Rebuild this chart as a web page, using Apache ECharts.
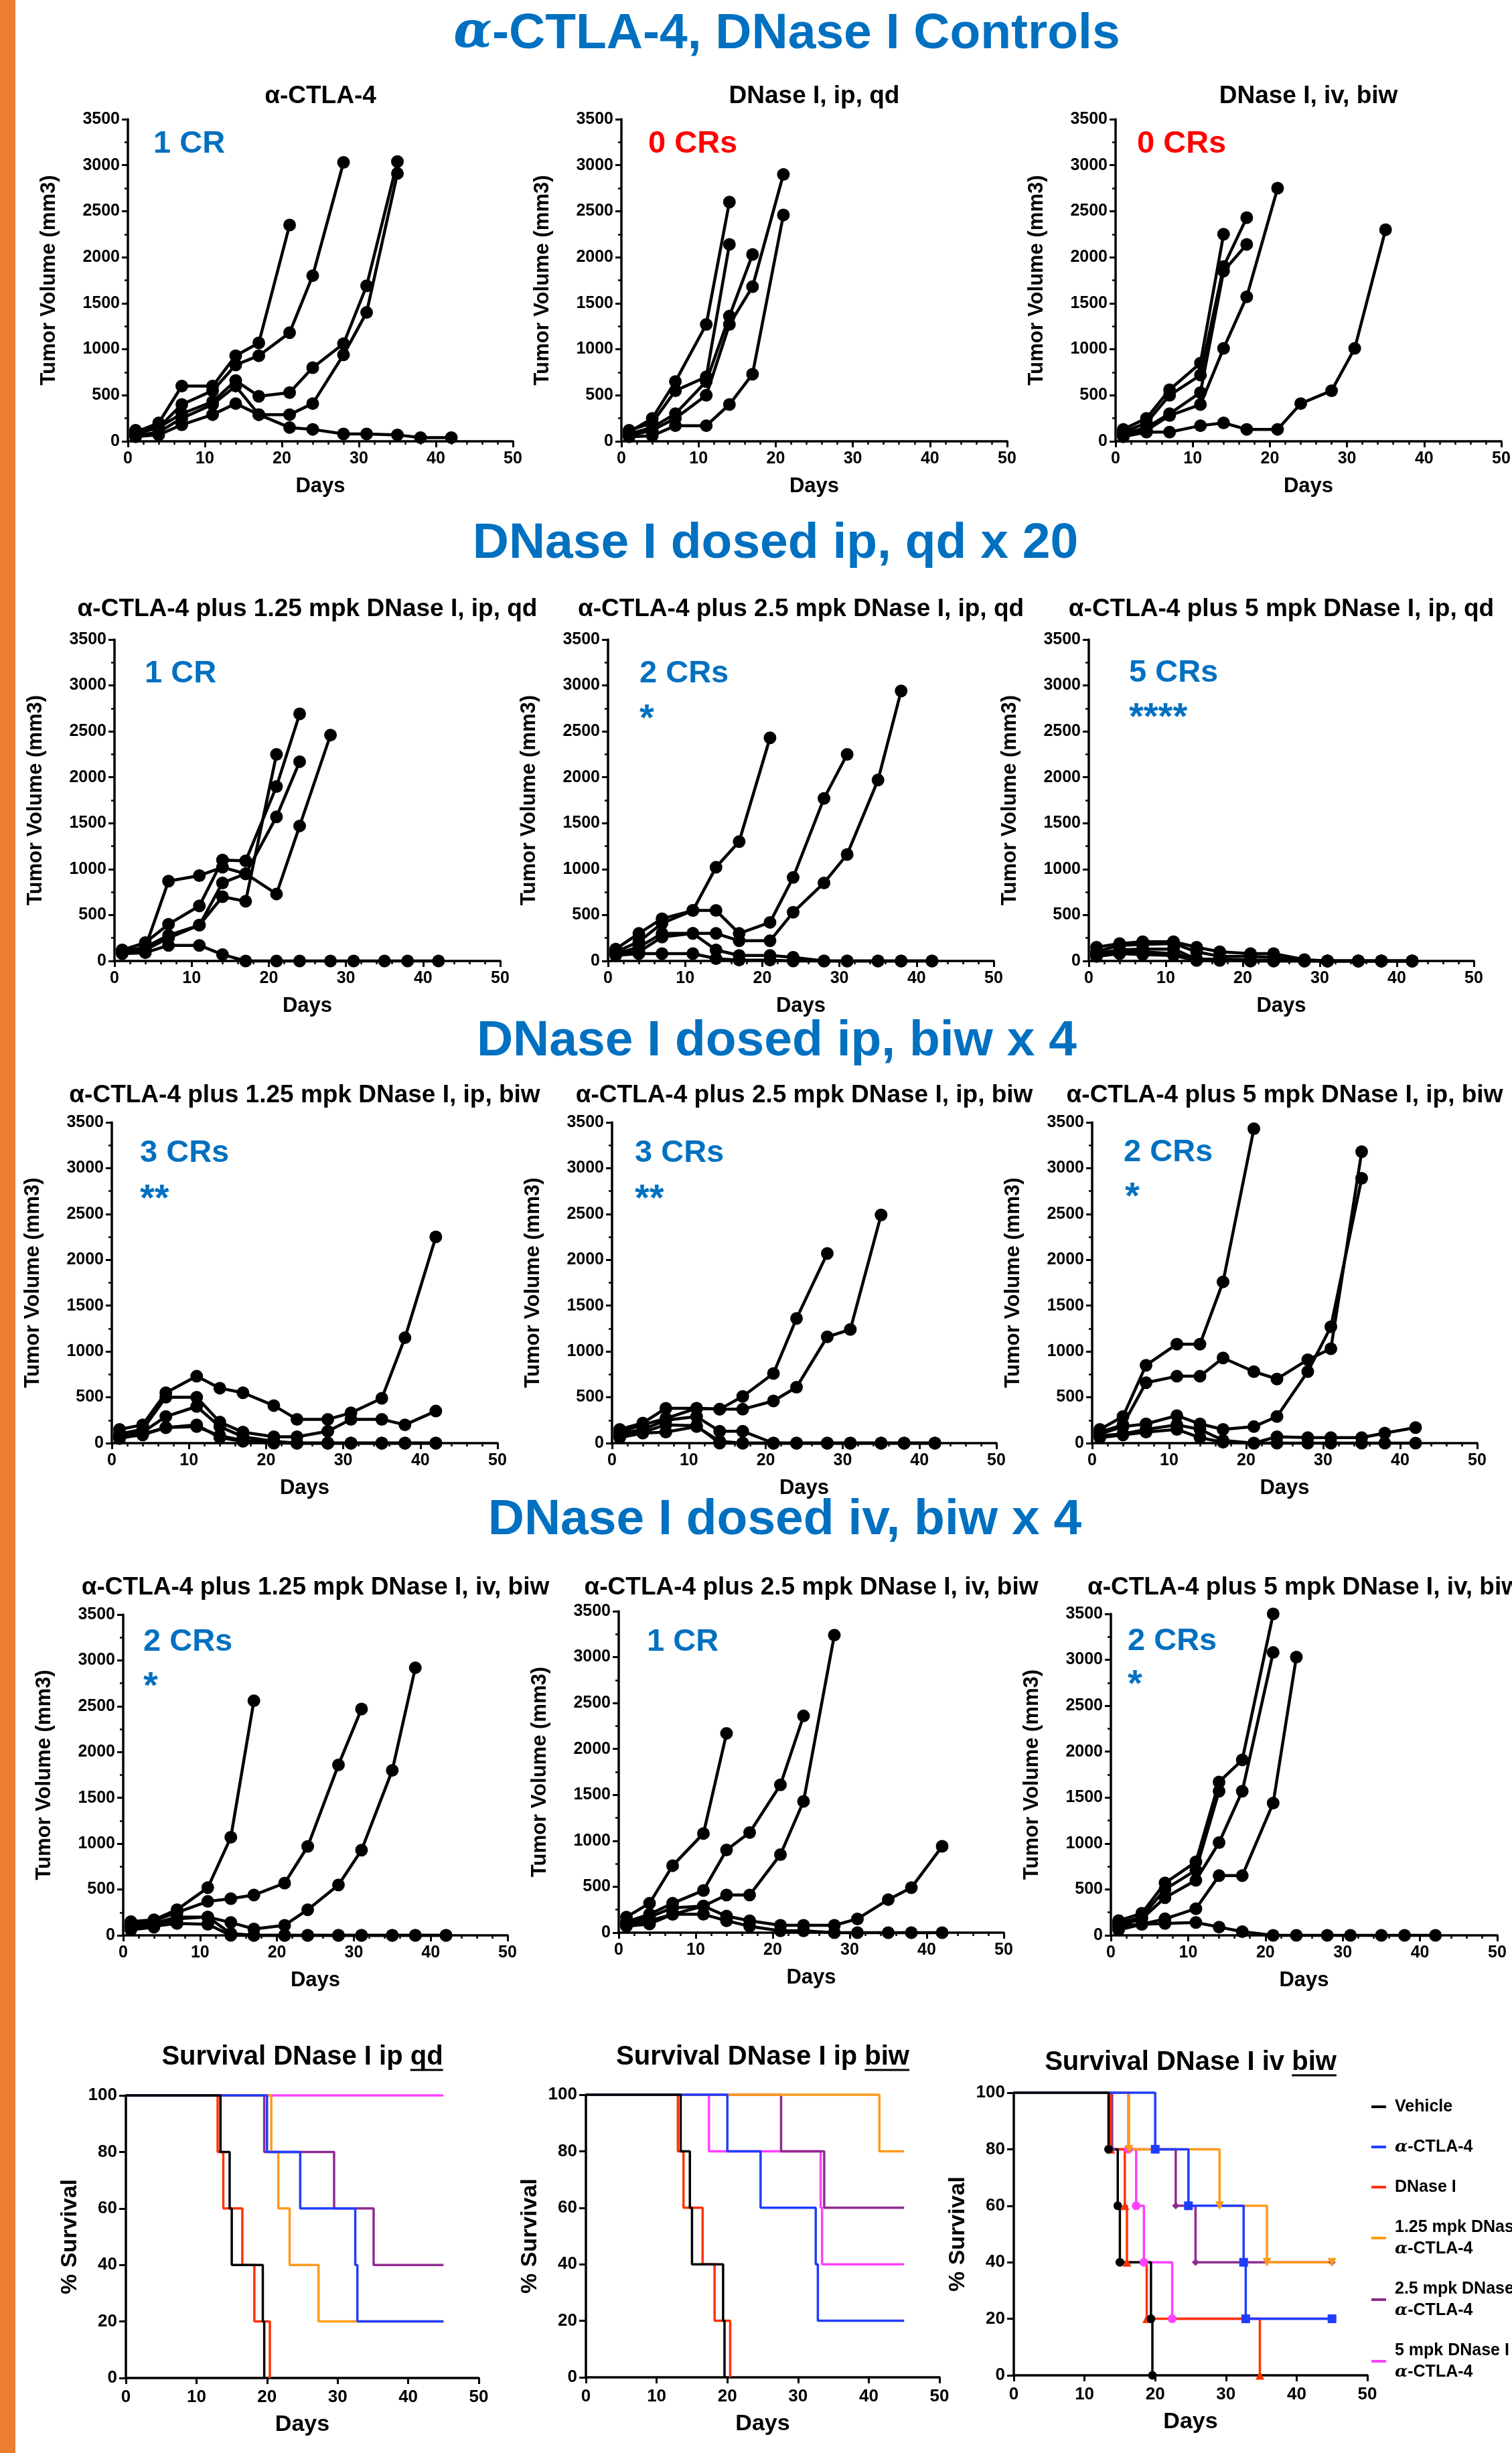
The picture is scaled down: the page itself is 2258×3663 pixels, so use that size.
<!DOCTYPE html>
<html><head><meta charset="utf-8">
<script src="https://cdn.jsdelivr.net/npm/echarts@6/dist/echarts.min.js"></script>
<style>html,body{margin:0;padding:0;background:#fff}#c{width:2258px;height:3663px}</style>
</head><body><div id="c"></div>
<script>
// ---------------- DATA ----------------
const days = [1, 4, 7, 11, 14, 17, 21, 24, 28, 31, 35, 38, 42];

// α-CTLA-4
const ctla4Mice = [
  [100, 200, 600, 600, 930, 1070, 2350],
  [80, 150, 400, 550, 830, 930, 1180, 1800, 3030],
  [120, 150, 300, 430, 660, 490, 530, 800, 1060, 1690, 3040],
  [60, 100, 250, 400, 600, 290, 290, 410, 940, 1400, 2910],
  [50, 70, 180, 290, 410, 290, 150, 130, 80, 80, 70, 40, 40]
];
// DNase I, ip, qd
const dnIpQdMice = [
  [100, 250, 650, 1270, 2600],
  [120, 200, 550, 700, 2140],
  [80, 150, 300, 650, 1360, 2030],
  [60, 120, 250, 500, 1270, 1680, 2900],
  [50, 60, 170, 170, 400, 730, 2460]
];
// DNase I, iv, biw
const dnIvBiwMice = [
  [130, 250, 560, 850, 2250],
  [100, 200, 500, 720, 1900, 2430],
  [80, 150, 300, 530, 1850, 2140],
  [60, 120, 280, 400, 1010, 1570, 2750],
  [50, 100, 100, 170, 200, 130, 130, 410, 550, 1010, 2300]
];
// α-CTLA-4 + 1.25 mpk DNase I, ip, qd
const ipQd125Mice = [
  [100, 150, 280, 390, 700, 650, 2250],
  [120, 200, 400, 600, 1100, 1090, 1900, 2690],
  [90, 120, 250, 390, 850, 950, 1570, 2170],
  [100, 150, 870, 930, 1020, 950, 730, 1470, 2460],
  [80, 90, 170, 170, 70, 0, 0, 0, 0, 0, 0, 0, 0]
];
// α-CTLA-4 + 2.5 mpk DNase I, ip, qd
const ipQd25Mice = [
  [130, 300, 460, 550, 1020, 1300, 2430],
  [100, 210, 410, 550, 550, 300, 420, 910, 1770, 2250],
  [80, 150, 300, 300, 300, 220, 220, 530, 850, 1160, 1970, 2940],
  [90, 100, 260, 300, 120, 60, 60, 40, 0, 0, 0, 0, 0],
  [60, 80, 80, 80, 25, 10, 10, 0, 0, 0, 0, 0, 0]
];
// α-CTLA-4 + 5 mpk DNase I, ip, qd
const ipQd5Mice = [
  [150, 190, 210, 210, 150, 100, 80, 80, 15, 0, 0, 0, 0],
  [100, 170, 180, 190, 100, 50, 50, 40, 10, 0, 0, 0, 0],
  [80, 120, 130, 130, 20, 20, 10, 10, 0, 0, 0, 0, 0],
  [60, 100, 100, 80, 10, 10, 0, 0, 0, 0, 0, 0, 0],
  [50, 80, 70, 60, 5, 5, 0, 0, 0, 0, 0, 0, 0]
];
// α-CTLA-4 + 1.25 mpk DNase I, ip, biw
const ipBiw125Mice = [
  [150, 200, 550, 730, 600, 550, 410, 260, 260, 330, 490, 1150, 2250],
  [100, 150, 500, 500, 230, 120, 70, 70, 130, 260, 260, 200, 350],
  [70, 120, 290, 400, 180, 70, 20, 0, 0, 0, 0, 0, 0],
  [50, 100, 170, 200, 60, 20, 0, 0, 0, 0, 0, 0, 0],
  [60, 90, 170, 180, 80, 30, 10, 0, 0, 0, 0, 0, 0]
];
// α-CTLA-4 + 2.5 mpk DNase I, ip, biw
const ipBiw25Mice = [
  [150, 220, 380, 380, 370, 510, 760, 1360, 2070],
  [120, 200, 270, 380, 370, 370, 460, 610, 1160, 1240, 2490],
  [100, 150, 250, 290, 130, 130, 0, 0, 0, 0, 0, 0, 0],
  [80, 120, 200, 190, 0, 0, 0, 0, 0, 0, 0, 0, 0],
  [60, 110, 120, 180, 20, 0, 0, 0, 0, 0, 0, 0, 0]
];
// α-CTLA-4 + 5 mpk DNase I, ip, biw
const ipBiw5Mice = [
  [150, 290, 850, 1080, 1080, 1760, 3430],
  [120, 200, 660, 730, 730, 930, 780, 700, 910, 1030, 3180],
  [100, 180, 210, 300, 210, 150, 180, 290, 780, 1270, 2890],
  [80, 100, 150, 200, 150, 30, 0, 70, 60, 60, 60, 110, 170],
  [60, 90, 120, 150, 60, 10, 0, 0, 0, 0, 0, 0, 0]
];
// α-CTLA-4 + 1.25 mpk DNase I, iv, biw
const ivBiw125Mice = [
  [150, 170, 280, 520, 1070, 2560],
  [120, 160, 250, 370, 400, 440, 570, 970, 1860, 2470],
  [100, 130, 200, 200, 140, 70, 110, 280, 550, 930, 1800, 2920],
  [80, 100, 130, 120, 0, 0, 0, 0, 0, 0, 0, 0, 0],
  [60, 90, 180, 200, 20, 0, 0, 0, 0, 0, 0, 0, 0]
];
// α-CTLA-4 + 2.5 mpk DNase I, iv, biw
const ivBiw25Mice = [
  [170, 320, 730, 1080, 2170],
  [120, 200, 320, 460, 900, 1090, 1610, 2360],
  [100, 170, 270, 290, 410, 410, 850, 1430, 3240],
  [85, 130, 200, 290, 180, 130, 80, 80, 80, 150, 360, 490, 940],
  [70, 95, 200, 200, 130, 70, 20, 20, 0, 0, 0, 0, 0]
];
// α-CTLA-4 + 5 mpk DNase I, iv, biw
const ivBiw5Mice = [
  [160, 240, 570, 800, 1670, 1910, 3500],
  [100, 180, 410, 600, 1010, 1570, 3080],
  [60, 120, 180, 290, 650, 650, 1440, 3030],
  [130, 200, 500, 710, 1570],
  [100, 120, 130, 140, 90, 40, 0, 0, 0, 0, 0, 0, 0]
];

// Survival (Kaplan-Meier): event times (days) and % survival after each event
const vehT = [0, 13.4, 14.7, 15.0, 19.4, 19.6],  vehS = [100, 80, 60, 40, 20, 0];
const ctlT = [0, 20.0, 24.7, 32.5, 32.8, 45],    ctlS = [100, 80, 60, 40, 20, 20];
const dnIpT = [0, 13.0, 13.8, 16.5, 18.2, 20.4], dnIpS = [100, 80, 60, 40, 20, 0];
const dnIvT = [0, 13.7, 15.7, 16.0, 18.8, 34.8], dnIvS = [100, 80, 60, 40, 20, 0];
const qd125T = [0, 20.6, 21.6, 23.2, 27.3, 45],  qd125S = [100, 80, 60, 40, 20, 20];
const qd25T = [0, 19.6, 29.5, 35.1, 45],         qd25S = [100, 80, 60, 40, 40];
const qd5T = [0, 45],                            qd5S = [100, 100];
const ipb125T = [0, 41.5, 45],                   ipb125S = [100, 80, 80];
const ipb25T = [0, 27.6, 33.7, 45],              ipb25S = [100, 80, 60, 60];
const ipb5T = [0, 17.4, 33.2, 33.4, 45],         ipb5S = [100, 80, 60, 40, 40];
const ivb125T = [0, 16.3, 29.1, 35.8, 45],       ivb125S = [100, 80, 60, 40, 40];
const ivb25T = [0, 13.9, 22.9, 25.7, 45],        ivb25S = [100, 80, 60, 40, 40];
const ivb5T = [0, 16.2, 17.3, 18.4, 22.4, 45],   ivb5S = [100, 80, 60, 40, 20, 20];

const groupNames = ['Vehicle', 'α-CTLA-4', 'DNase I', '1.25 mpk DNase I +\nα-CTLA-4', '2.5 mpk DNase I +\nα-CTLA-4', '5 mpk DNase I +\nα-CTLA-4'];

// ---------------- LAYOUT / STYLE ----------------
const FONT = '"Liberation Sans", Arial, sans-serif';
const BLUE = '#0070C0', RED = '#FF0000';
const groupColors = ['#000000', '#1F3DFF', '#FF3300', '#FF9A1A', '#8E2C90', '#FF40FF'];
const groupSymbols = ['circle', 'rect', 'triangle', 'triangle', 'diamond', 'circle'];
const groupRot = [0, 0, 0, 180, 0, 0];

const tumorPanels = [
  {title: 'α-CTLA-4', box: [191, 178, 766, 659], ty: 144, mice: ctla4Mice, note: '1 CR', nc: BLUE, np: [229, 215], star: '', sp: null},
  {title: 'DNase I, ip, qd', box: [928, 178, 1504, 659], ty: 144, mice: dnIpQdMice, note: '0 CRs', nc: RED, np: [968, 215], star: '', sp: null},
  {title: 'DNase I, iv, biw', box: [1666, 178, 2242, 659], ty: 144, mice: dnIvBiwMice, note: '0 CRs', nc: RED, np: [1698, 215], star: '', sp: null},
  {title: 'α-CTLA-4 plus 1.25 mpk DNase I, ip, qd', box: [171, 955, 747, 1435], ty: 910, mice: ipQd125Mice, note: '1 CR', nc: BLUE, np: [216, 1006], star: '', sp: null},
  {title: 'α-CTLA-4 plus 2.5 mpk DNase I, ip, qd', box: [908, 955, 1484, 1435], ty: 910, mice: ipQd25Mice, note: '2 CRs', nc: BLUE, np: [955, 1006], star: '*', sp: [955, 1063]},
  {title: 'α-CTLA-4 plus 5 mpk DNase I, ip, qd', box: [1626, 955, 2201, 1435], ty: 910, mice: ipQd5Mice, note: '5 CRs', nc: BLUE, np: [1686, 1005], star: '****', sp: [1686, 1061]},
  {title: 'α-CTLA-4 plus 1.25 mpk DNase I, ip, biw', box: [167, 1676, 743, 2155], ty: 1636, mice: ipBiw125Mice, note: '3 CRs', nc: BLUE, np: [209, 1722], star: '**', sp: [209, 1780]},
  {title: 'α-CTLA-4 plus 2.5 mpk DNase I, ip, biw', box: [914, 1676, 1488, 2155], ty: 1636, mice: ipBiw25Mice, note: '3 CRs', nc: BLUE, np: [948, 1722], star: '**', sp: [948, 1780]},
  {title: 'α-CTLA-4 plus 5 mpk DNase I, ip, biw', box: [1631, 1676, 2206, 2155], ty: 1636, mice: ipBiw5Mice, note: '2 CRs', nc: BLUE, np: [1678, 1721], star: '*', sp: [1680, 1777]},
  {title: 'α-CTLA-4 plus 1.25 mpk DNase I, iv, biw', box: [184, 2411, 758, 2890], ty: 2371, mice: ivBiw125Mice, note: '2 CRs', nc: BLUE, np: [214, 2452], star: '*', sp: [214, 2508]},
  {title: 'α-CTLA-4 plus 2.5 mpk DNase I, iv, biw', box: [924, 2406, 1499, 2886], ty: 2371, mice: ivBiw25Mice, note: '1 CR', nc: BLUE, np: [966, 2452], star: '', sp: null},
  {title: 'α-CTLA-4 plus 5 mpk DNase I, iv, biw', box: [1659, 2410, 2236, 2890], ty: 2371, mice: ivBiw5Mice, note: '2 CRs', nc: BLUE, np: [1684, 2451], star: '*', sp: [1684, 2505]}
];

const survPanels = [
  {title: 'Survival DNase I ip qd', uword: 'qd', box: [188, 3129, 715, 3551], ty: 3072, marks: false,
   groups: [[vehT, vehS], [ctlT, ctlS], [dnIpT, dnIpS], [qd125T, qd125S], [qd25T, qd25S], [qd5T, qd5S]]},
  {title: 'Survival DNase I ip biw', uword: 'biw', box: [875, 3128, 1403, 3550], ty: 3072, marks: false,
   groups: [[vehT, vehS], [ctlT, ctlS], [dnIpT, dnIpS], [ipb125T, ipb125S], [ipb25T, ipb25S], [ipb5T, ipb5S]]},
  {title: 'Survival DNase I iv biw', uword: 'biw', box: [1514, 3125, 2042, 3547], ty: 3080, marks: true,
   groups: [[vehT, vehS], [ctlT, ctlS], [dnIvT, dnIvS], [ivb125T, ivb125S], [ivb25T, ivb25S], [ivb5T, ivb5S]]}
];

const sectionTitles = [
  ['{a|α}-CTLA-4, DNase I Controls', 1175, 51],
  ['DNase I dosed ip, qd x 20', 1158, 812],
  ['DNase I dosed ip, biw x 4', 1160, 1555],
  ['DNase I dosed iv, biw x 4', 1172, 2270]
];

// ---------------- BUILD ----------------
const grids = [], xAxes = [], yAxes = [], series = [], elements = [];
const blackLine = w => ({show: true, onZero: false, lineStyle: {color: '#000', width: w}});
const boldText = s => ({fontSize: s, fontWeight: 'bold', color: '#000', fontFamily: FONT});
const plain = v => String(v);

elements.push({type: 'rect', shape: {x: 0, y: 0, width: 23, height: 3663}, style: {fill: '#ED7D31'}, z: 0});

function addText(text, x, y, size, color, align, rich) {
  const st = {text: text, fill: color, fontSize: size, fontWeight: 'bold', fontFamily: FONT, align: align, verticalAlign: 'middle'};
  if (rich) st.rich = rich;
  elements.push({type: 'text', x: x, y: y, style: st, z: 10});
}

sectionTitles.forEach(t => addText(t[0], t[1], t[2], 75, BLUE, 'center',
  {a: {fontStyle: 'italic', fontFamily: '"DejaVu Serif", serif', fontWeight: 'bold', fontSize: 75, fill: BLUE}}));

tumorPanels.forEach((p, k) => {
  const [L, T, R, B] = p.box;
  grids.push({left: L, top: T, width: R - L, height: B - T, containLabel: false, outerBoundsMode: 'none'});
  const gi = grids.length - 1;
  xAxes.push({gridIndex: gi, type: 'value', min: 0, max: 50, interval: 10,
    axisLine: blackLine(3.5),
    axisTick: {show: true, length: 9, lineStyle: {color: '#000', width: 3}},
    minorTick: {show: true, splitNumber: 5, length: 5, lineStyle: {color: '#000', width: 2.5}},
    splitLine: {show: false}, minorSplitLine: {show: false},
    axisLabel: Object.assign({margin: 14, formatter: plain}, boldText(25)),
    name: 'Days', nameLocation: 'middle', nameGap: 52, nameTextStyle: boldText(31)});
  yAxes.push({gridIndex: gi, type: 'value', min: 0, max: 3500, interval: 500,
    axisLine: blackLine(3.5),
    axisTick: {show: true, length: 9, lineStyle: {color: '#000', width: 3}},
    minorTick: {show: true, splitNumber: 2, length: 5, lineStyle: {color: '#000', width: 2.5}},
    splitLine: {show: false}, minorSplitLine: {show: false},
    axisLabel: Object.assign({margin: 12, formatter: plain}, boldText(25)),
    name: 'Tumor Volume (mm3)', nameLocation: 'middle', nameGap: 102, nameTextStyle: boldText(31)});
  p.mice.forEach(vals => {
    series.push({type: 'line', xAxisIndex: gi, yAxisIndex: gi, silent: true, animation: false, clip: false,
      data: vals.map((v, i) => [days[i], v]),
      symbol: 'circle', symbolSize: 19, showSymbol: true,
      lineStyle: {color: '#000', width: 4.5}, itemStyle: {color: '#000'}});
  });
  addText(p.title, (L + R) / 2, p.ty, 37, '#000', 'center');
  addText(p.note, p.np[0], p.np[1], 47, p.nc, 'left');
  if (p.star) addText(p.star, p.sp[0], p.sp[1] + 12, 56, p.nc, 'left');
});

const mctx = document.createElement('canvas').getContext('2d');
mctx.font = 'bold 40px "Liberation Sans"';

survPanels.forEach(p => {
  const [L, T, R, B] = p.box;
  grids.push({left: L, top: T, width: R - L, height: B - T, containLabel: false, outerBoundsMode: 'none'});
  const gi = grids.length - 1;
  xAxes.push({gridIndex: gi, type: 'value', min: 0, max: 50, interval: 10,
    axisLine: blackLine(3.5),
    axisTick: {show: true, length: 9, lineStyle: {color: '#000', width: 3}},
    splitLine: {show: false},
    axisLabel: Object.assign({margin: 16, formatter: plain}, boldText(26)),
    name: 'Days', nameLocation: 'middle', nameGap: 53, nameTextStyle: boldText(34)});
  yAxes.push({gridIndex: gi, type: 'value', min: 0, max: 100, interval: 20,
    axisLine: blackLine(3.5),
    axisTick: {show: true, length: 10, lineStyle: {color: '#000', width: 3}},
    splitLine: {show: false},
    axisLabel: Object.assign({margin: 13, formatter: plain}, boldText(26)),
    name: '% Survival', nameLocation: 'middle', nameGap: 66, nameTextStyle: boldText(34)});
  // draw order: 5 mpk first, vehicle last (on top)
  for (let g = 5; g >= 0; g--) {
    const [tt, ss] = p.groups[g];
    const c = groupColors[g];
    series.push({type: 'line', name: groupNames[g], xAxisIndex: gi, yAxisIndex: gi, step: 'end',
      animation: false, clip: false, silent: true,
      data: tt.map((t, i) => i === 0 ? {value: [t, ss[i]], symbol: 'none'} : [t, ss[i]]),
      symbol: p.marks ? groupSymbols[g] : 'none', symbolRotate: groupRot[g],
      symbolSize: groupSymbols[g] === 'diamond' ? 11 : 13, showSymbol: p.marks,
      lineStyle: {color: c, width: 3.5}, itemStyle: {color: c}});
  }
  const cx = (L + R) / 2;
  addText(p.title, cx, p.ty, 40, '#000', 'center');
  const W = mctx.measureText(p.title).width, w = mctx.measureText(p.uword).width;
  const uy = p.ty + 19;
  elements.push({type: 'line', shape: {x1: cx + W / 2 - w, y1: uy, x2: cx + W / 2, y2: uy}, style: {stroke: '#000', lineWidth: 3}, z: 10});
});

const option = {
  backgroundColor: '#ffffff',
  animation: false,
  grid: grids, xAxis: xAxes, yAxis: yAxes, series: series,
  legend: {
    data: groupNames, orient: 'vertical', left: 2048, top: 3130, padding: 0,
    icon: 'rect', itemWidth: 22, itemHeight: 4, itemGap: 28,
    selectedMode: false,
    formatter: n => n.replace(/α/g, '{a|α}'),
    textStyle: {fontSize: 25, fontWeight: 'bold', color: '#000', fontFamily: FONT, lineHeight: 32, padding: [0, 0, 0, 8],
      rich: {a: {fontStyle: 'italic', fontFamily: '"DejaVu Serif", serif', fontWeight: 'bold', fontSize: 25, color: '#000', lineHeight: 32}}}
  },
  graphic: {elements: elements}
};

const chart = echarts.init(document.getElementById('c'), null, {renderer: 'canvas', width: 2258, height: 3663, devicePixelRatio: 1});
chart.setOption(option);
</script>
</body></html>
